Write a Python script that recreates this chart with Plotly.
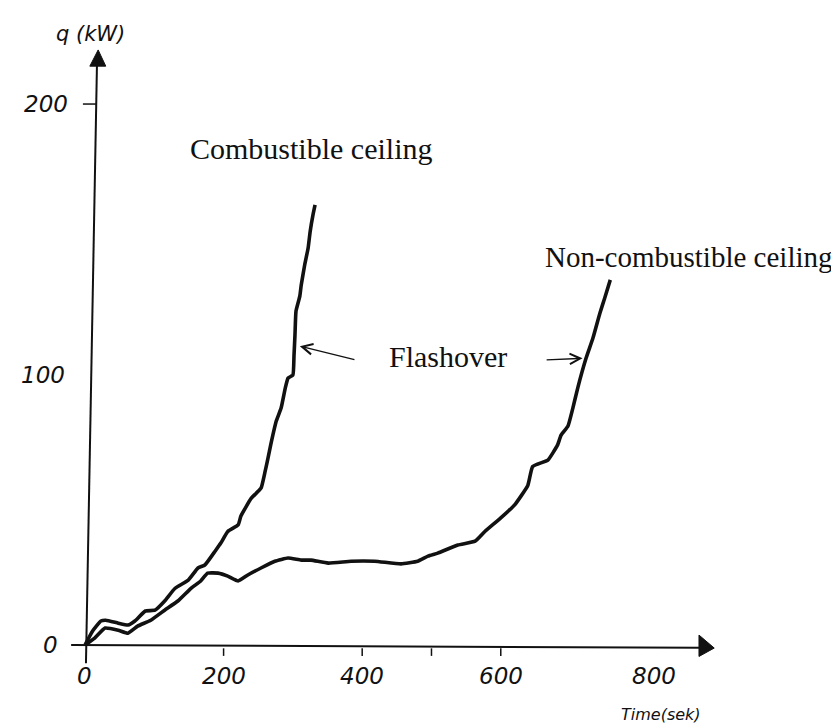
import plotly.graph_objects as go

# ---- data (time in s, heat release q in kW) ----
time_comb = [0, 11, 23, 30, 48, 62, 72, 87, 101, 115, 130, 149, 163, 173, 188, 196, 206,
             221, 225, 240, 254, 260, 264, 268, 276, 283, 289, 293, 300, 301.6, 303,
             304.5, 310, 312, 317, 322, 325, 329, 332]
q_comb = [0, 5.2, 8.9, 9.2, 8.1, 7.4, 8.9, 12.6, 12.9, 16.3, 21, 24, 28.5, 29.6, 34.8, 37.7, 42,
          44.4, 47.7, 54.3, 58, 64.3, 69, 74, 82.8, 87.6, 95, 98.7, 99.8, 107, 114.6,
          123.5, 129, 133, 140.5, 146.8, 153, 159, 162.7]

time_noncomb = [0, 14, 29, 48, 62, 76, 95, 115, 134, 153, 167, 177, 192, 206, 221, 235, 254,
                274, 293, 312, 326, 351, 384, 418, 456, 480, 495, 509, 538, 563, 577, 600,
                620, 639, 646, 668, 682, 687, 697, 704, 711, 723, 733, 743, 750, 758]
q_noncomb = [0, 2.6, 6.3, 5.5, 4.4, 7, 9.2, 12.9, 16.3, 21, 23.7, 26.6, 26.6, 25.5, 23.7, 25.9,
             28.5, 31, 32.2, 31.4, 31.4, 30.3, 31, 31, 30, 31, 32.9, 34, 37, 38.4, 42, 47,
             51.8, 59, 66, 68.4, 74, 77.6, 81, 87.6, 95, 106, 113.5, 122.7, 128.3, 135]

x_ticks = [0, 200, 400, 600, 800]
x_minor_ticks = [200, 400, 500, 600]
y_ticks = [0, 100, 200]

x_title = "Time(sek)"
y_title = "q (kW)"
label_comb = "Combustible ceiling"
label_noncomb = "Non-combustible ceiling"
label_flash = "Flashover"

# ---- figure ----
INK = "#111111"
fig = go.Figure()

fig.add_trace(go.Scatter(x=time_comb, y=q_comb, mode="lines",
                         line=dict(color=INK, width=3.6, shape="spline", smoothing=0.4),
                         hoverinfo="skip"))
fig.add_trace(go.Scatter(x=time_noncomb, y=q_noncomb, mode="lines",
                         line=dict(color=INK, width=3.6, shape="spline", smoothing=0.4),
                         hoverinfo="skip"))

shapes = []
# x axis line + arrowhead
shapes.append(dict(type="line", xref="x", yref="y", x0=-20, y0=0, x1=890, y1=-1,
                   line=dict(color=INK, width=2)))
shapes.append(dict(type="path", xref="x", yref="y",
                   path="M 886,3.7 L 908,-1.1 L 886,-4.2 Z",
                   fillcolor=INK, line=dict(color=INK, width=1)))
# y axis line + arrowhead
shapes.append(dict(type="line", xref="x", yref="y", x0=1.4, y0=-6.7, x1=17.3, y1=215,
                   line=dict(color=INK, width=2)))
shapes.append(dict(type="path", xref="x", yref="y",
                   path="M 7,214 L 19,220 L 30,214 Z",
                   fillcolor=INK, line=dict(color=INK, width=1)))
# tick marks
for t in x_minor_ticks:
    shapes.append(dict(type="line", xref="x", yref="y", x0=t, y0=-1.2, x1=t, y1=-4.0,
                       line=dict(color=INK, width=1.5)))
shapes.append(dict(type="line", xref="x", yref="y", x0=-3, y0=200, x1=16, y1=200,
                   line=dict(color=INK, width=1.5)))
fig.update_layout(shapes=shapes)

annotations = []
tick_font = dict(family="DejaVu Sans", size=23, color=INK)
x_shift = {800: 15}
for t in x_ticks:
    annotations.append(dict(x=t, y=-11.5, xref="x", yref="y", text=f"<i>{t}</i>",
                            showarrow=False, font=tick_font, xanchor="center",
                            yanchor="middle", xshift=x_shift.get(t, 0)))
y_shift = {0: -25, 100: -18, 200: -15}
for t in y_ticks:
    annotations.append(dict(x=0, y=t, xref="x", yref="y", text=f"<i>{t}</i>",
                            showarrow=False, font=tick_font, xanchor="right",
                            yanchor="middle", xshift=y_shift[t]))

annotations.append(dict(x=8, y=226, xref="x", yref="y", text=f"<i>{y_title}</i>",
                        showarrow=False, font=dict(family="DejaVu Sans", size=21, color=INK),
                        xanchor="center", yanchor="middle"))
annotations.append(dict(x=831, y=-25.8, xref="x", yref="y", text=f"<i>{x_title}</i>",
                        showarrow=False, font=dict(family="DejaVu Sans", size=16, color=INK),
                        xanchor="center", yanchor="middle"))

serif = dict(family="Liberation Serif", size=30, color=INK)
annotations.append(dict(x=326, y=183.4, xref="x", yref="y", text=label_comb,
                        showarrow=False, font=serif, xanchor="center", yanchor="middle"))
annotations.append(dict(x=1082, y=143.4, xref="x", yref="y", text=label_noncomb,
                        showarrow=False, font=dict(family="Liberation Serif", size=29, color=INK),
                        xanchor="right", yanchor="middle"))
annotations.append(dict(x=524, y=106.5, xref="x", yref="y", text=label_flash,
                        showarrow=False, font=serif, xanchor="center", yanchor="middle"))
# flashover pointers
annotations.append(dict(x=310, y=110.5, xref="x", yref="y", ax=391, ay=105.4,
                        axref="x", ayref="y", text="", showarrow=True,
                        arrowhead=5, arrowsize=1.6, arrowwidth=1.3, arrowcolor=INK))
annotations.append(dict(x=718, y=106, xref="x", yref="y", ax=664, ay=105.4,
                        axref="x", ayref="y", text="", showarrow=True,
                        arrowhead=5, arrowsize=1.6, arrowwidth=1.3, arrowcolor=INK))
fig.update_layout(annotations=annotations)

fig.update_layout(
    width=839, height=725,
    margin=dict(l=0, r=0, t=0, b=0),
    paper_bgcolor="white", plot_bgcolor="white",
    showlegend=False,
    xaxis=dict(range=[-111.1, 1099.6], visible=False, fixedrange=True),
    yaxis=dict(range=[-32.5, 235.5], visible=False, fixedrange=True),
)

fig.write_html("out.html")
